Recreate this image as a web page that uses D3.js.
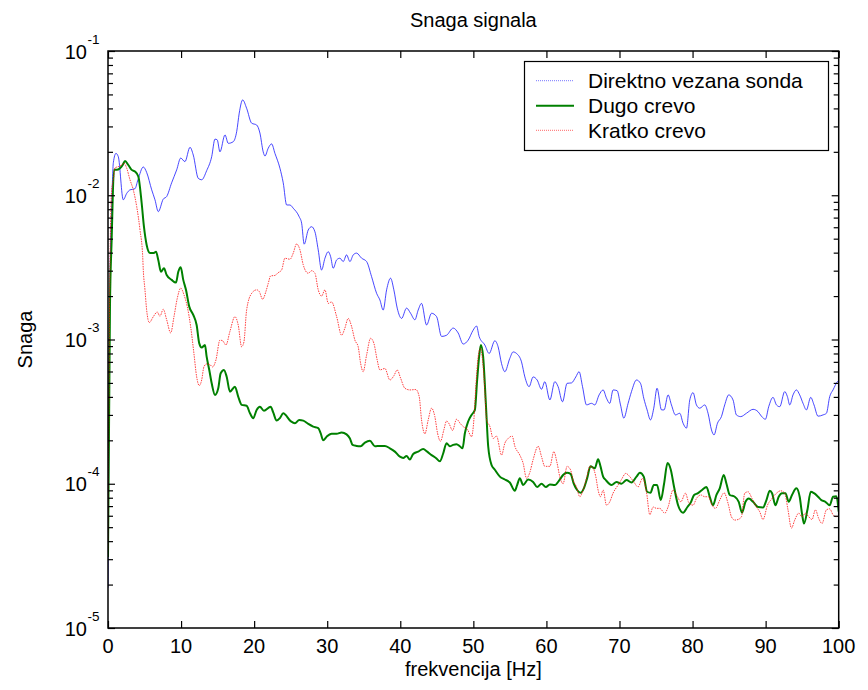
<!DOCTYPE html>
<html>
<head>
<meta charset="utf-8">
<script src="https://cdn.jsdelivr.net/npm/d3@7"></script>
<style>
  html, body { margin: 0; padding: 0; background: #fff; }
  svg { display: block; font-family: "Liberation Sans", Arial, sans-serif; }
</style>
</head>
<body>
<svg id="chart" width="868" height="690"></svg>
<script>
// ---------- DATA ----------
const seriesNames = ["Direktno vezana sonda", "Dugo crevo", "Kratko crevo"];
const xTicks = [0, 10, 20, 30, 40, 50, 60, 70, 80, 90, 100];
const yTicks = [1e-5, 1e-4, 1e-3, 1e-2, 1e-1];
const yTickExp = ["-5", "-4", "-3", "-2", "-1"];

// [frequency Hz, power]
const direktno = [[0,1.9e-5],[0.25,2e-3],[0.5,8e-3],[0.73,1.68e-2],[1.09,1.95e-2],[1.41,1.85e-2],[2.09,9.3e-3],[2.56,1.03e-2],[3.01,1.09e-2],[3.69,1.11e-2],[4.10,1.28e-2],[4.83,1.57e-2],[5.29,1.44e-2],[5.98,1.09e-2],[6.43,9.3e-3],[6.88,7.7e-3],[7.56,9.4e-3],[8.03,9.8e-3],[8.71,1.22e-2],[9.40,1.5e-2],[9.95,1.81e-2],[10.53,1.71e-2],[11.22,2.15e-2],[11.67,1.9e-2],[12.35,1.31e-2],[12.82,1.28e-2],[13.50,1.48e-2],[14.19,1.85e-2],[14.64,2.45e-2],[14.95,2.42e-2],[15.32,2.0e-2],[16.01,2.62e-2],[16.46,2.29e-2],[17.14,2.35e-2],[17.61,2.76e-2],[17.96,3.71e-2],[18.43,4.58e-2],[18.97,4.01e-2],[19.66,3.16e-2],[20.34,3.07e-2],[20.79,2.7e-2],[21.24,2.0e-2],[21.48,1.87e-2],[21.93,2.12e-2],[22.39,2.27e-2],[22.85,1.95e-2],[23.53,1.54e-2],[23.98,1.22e-2],[24.45,8.56e-3],[24.90,8.56e-3],[25.35,8.13e-3],[26.17,7.09e-3],[26.50,6.4e-3],[26.85,4.58e-3],[27.40,5.74e-3],[27.87,6.05e-3],[28.32,5.58e-3],[28.77,4.18e-3],[29.23,3.03e-3],[29.69,3.66e-3],[30.14,4.06e-3],[30.47,3.75e-3],[30.82,3.12e-3],[31.29,3.56e-3],[31.74,3.66e-3],[32.19,3.47e-3],[32.65,3.86e-3],[33.11,3.47e-3],[33.56,3.86e-3],[34.02,3.97e-3],[34.71,3.66e-3],[35.39,3.47e-3],[36.07,2.73e-3],[36.76,2.09e-3],[37.21,1.88e-3],[37.66,1.6e-3],[38.13,2.21e-3],[38.67,2.66e-3],[39.12,2.21e-3],[39.58,1.65e-3],[40.18,1.4e-3],[40.86,1.65e-3],[41.41,1.52e-3],[42.00,1.37e-3],[42.45,1.6e-3],[42.91,1.78e-3],[43.60,1.26e-3],[44.28,1.52e-3],[44.97,1.44e-3],[45.65,1.05e-3],[46.33,1.07e-3],[47.24,1.2e-3],[47.92,1.11e-3],[48.61,9.3e-4],[49.29,9.9e-4],[49.97,1.16e-3],[50.44,1.24e-3],[50.79,1.05e-3],[51.57,9.16e-4],[52.16,8.0e-4],[52.94,9.8e-4],[53.39,8.9e-4],[53.86,6.8e-4],[54.31,5.98e-4],[54.99,7.4e-4],[55.44,8.2e-4],[55.91,8.0e-4],[56.59,7.0e-4],[57.05,5.5e-4],[57.63,4.71e-4],[58.18,5.5e-4],[58.73,5.24e-4],[59.33,4.52e-4],[59.78,5.1e-4],[60.47,3.81e-4],[61.15,5.1e-4],[61.60,4.71e-4],[62.20,3.7e-4],[62.83,4.97e-4],[63.43,5.0e-4],[64.02,5.5e-4],[64.47,5.98e-4],[64.94,4.71e-4],[65.49,3.52e-4],[66.17,3.61e-4],[66.62,3.52e-4],[67.21,4.13e-4],[67.76,4.47e-4],[68.22,3.92e-4],[68.67,3.61e-4],[69.12,4.47e-4],[69.67,4.42e-4],[70.14,3.52e-4],[70.59,2.85e-4],[71.18,3.61e-4],[71.64,4.35e-4],[72.33,5.24e-4],[72.87,4.97e-4],[73.32,3.92e-4],[73.78,3.25e-4],[74.24,2.77e-4],[74.69,3.34e-4],[75.14,4.59e-4],[75.75,3.25e-4],[76.10,3.25e-4],[76.65,4.13e-4],[77.11,3.52e-4],[77.66,3.0e-4],[78.25,3.08e-4],[78.70,2.63e-4],[79.17,2.43e-4],[79.62,3.81e-4],[80.07,4.28e-4],[80.53,3.52e-4],[80.98,3.34e-4],[81.67,3.52e-4],[82.12,3.08e-4],[82.59,2.36e-4],[82.94,2.18e-4],[83.41,2.63e-4],[83.95,2.92e-4],[84.40,3.52e-4],[84.95,4.13e-4],[85.54,3.81e-4],[86.00,3.0e-4],[86.59,2.92e-4],[87.37,3.08e-4],[88.28,3.28e-4],[88.96,3.16e-4],[89.42,2.94e-4],[89.97,2.8e-4],[90.42,3.42e-4],[91.01,3.97e-4],[91.48,3.52e-4],[91.93,3.42e-4],[92.61,4.35e-4],[92.98,4.02e-4],[93.30,3.52e-4],[93.75,4.13e-4],[94.21,4.47e-4],[94.66,4.13e-4],[95.12,3.61e-4],[95.58,3.25e-4],[96.17,3.97e-4],[96.62,3.52e-4],[97.17,2.94e-4],[97.85,3.0e-4],[98.32,3.08e-4],[98.77,4.02e-4],[99.22,4.47e-4],[99.82,5.1e-4],[100,5.2e-4]];

const dugo = [[0,3.1e-5],[0.27,1.7e-3],[0.5,4.9e-3],[0.82,1.5e-2],[1.19,1.5e-2],[1.64,1.54e-2],[2.01,1.62e-2],[2.33,1.73e-2],[2.78,1.62e-2],[3.24,1.5e-2],[3.69,1.46e-2],[4.15,1.35e-2],[4.61,8.8e-3],[4.92,6.05e-3],[5.29,4.52e-3],[5.75,3.97e-3],[6.20,3.97e-3],[6.57,4.06e-3],[6.88,3.56e-3],[7.25,2.95e-3],[7.66,3.12e-3],[8.03,2.8e-3],[8.71,2.59e-3],[9.30,2.48e-3],[9.62,2.95e-3],[9.95,3.17e-3],[10.30,2.59e-3],[10.67,2.21e-3],[11.12,1.69e-3],[11.67,1.48e-3],[12.13,1.26e-3],[12.49,9.4e-4],[12.82,8.8e-4],[13.27,9.16e-4],[13.50,7.6e-4],[13.86,6.15e-4],[14.19,4.97e-4],[14.64,4.13e-4],[15.09,4.59e-4],[15.42,5.83e-4],[15.87,6.15e-4],[16.24,5.52e-4],[16.69,4.35e-4],[17.37,4.71e-4],[17.82,4.02e-4],[18.29,3.52e-4],[18.97,3.47e-4],[19.43,3.08e-4],[19.88,2.85e-4],[20.34,3.25e-4],[20.79,3.42e-4],[21.34,3.21e-4],[22.26,3.42e-4],[22.61,3.12e-4],[23.08,2.74e-4],[23.53,2.85e-4],[23.98,3.08e-4],[24.99,2.72e-4],[25.58,2.63e-4],[26.17,2.77e-4],[26.72,2.74e-4],[27.40,2.6e-4],[28.08,2.49e-4],[28.77,2.43e-4],[29.10,2.24e-4],[29.45,2.0e-4],[29.92,2.12e-4],[30.60,2.22e-4],[31.29,2.22e-4],[31.97,2.27e-4],[32.65,2.2e-4],[33.11,2.06e-4],[33.47,1.86e-4],[34.02,1.83e-4],[34.57,1.82e-4],[35.16,1.93e-4],[35.84,1.99e-4],[36.53,1.82e-4],[37.21,1.83e-4],[37.89,1.83e-4],[38.58,1.76e-4],[39.26,1.67e-4],[39.95,1.54e-4],[40.40,1.51e-4],[40.86,1.56e-4],[41.31,1.47e-4],[41.77,1.61e-4],[42.45,1.67e-4],[43.13,1.74e-4],[43.68,1.67e-4],[44.28,1.58e-4],[44.87,1.51e-4],[45.42,1.43e-4],[45.87,1.62e-4],[46.33,1.91e-4],[46.79,1.82e-4],[47.24,1.86e-4],[47.70,1.88e-4],[48.15,1.82e-4],[48.52,1.76e-4],[48.84,2.24e-4],[49.29,2.7e-4],[49.75,3.0e-4],[50.21,3.25e-4],[50.52,5.24e-4],[50.79,7.6e-4],[51.03,9.16e-4],[51.34,7.6e-4],[51.71,3.61e-4],[52.03,1.82e-4],[52.49,1.35e-4],[52.94,1.25e-4],[53.63,1.12e-4],[54.31,1.07e-4],[54.99,1.02e-4],[55.68,8.94e-5],[55.99,9.8e-5],[56.36,1.09e-4],[56.81,9.8e-5],[57.50,1.07e-4],[58.18,1.03e-4],[58.73,9.5e-5],[59.33,1.0e-4],[59.92,9.5e-5],[60.47,9.9e-5],[61.15,9.8e-5],[61.83,1.07e-4],[62.28,1.15e-4],[62.83,1.19e-4],[63.30,1.17e-4],[63.75,1.0e-4],[64.20,9.05e-5],[64.67,8.66e-5],[65.12,9.3e-5],[65.57,1.09e-4],[66.03,1.32e-4],[66.62,1.28e-4],[67.07,1.48e-4],[67.40,1.32e-4],[67.76,1.12e-4],[68.13,1.06e-4],[68.91,9.8e-5],[69.59,1.03e-4],[70.27,1.0e-4],[70.96,1.06e-4],[71.64,1.02e-4],[72.33,1.12e-4],[72.78,1.19e-4],[73.32,1.12e-4],[73.78,8.8e-5],[74.24,8.66e-5],[74.69,9.8e-5],[75.14,9.8e-5],[75.65,7.7e-5],[76.10,1.0e-4],[76.57,1.39e-4],[77.02,1.25e-4],[77.47,9.5e-5],[78.02,7.1e-5],[78.70,6.3e-5],[79.30,6.9e-5],[79.75,7.4e-5],[80.21,8.36e-5],[80.75,8.6e-5],[81.30,9.05e-5],[81.90,9.5e-5],[82.35,8.13e-5],[82.80,7.1e-5],[83.27,8.36e-5],[83.72,9.3e-5],[84.27,1.15e-4],[84.64,1.0e-4],[85.09,8.36e-5],[85.77,8.13e-5],[86.32,7.5e-5],[86.77,6.3e-5],[87.24,7.5e-5],[87.69,7.9e-5],[88.28,7.5e-5],[88.96,6.9e-5],[89.64,6.85e-5],[90.11,7.7e-5],[90.56,8.94e-5],[90.88,8.6e-5],[91.34,7.1e-5],[91.79,8.13e-5],[92.24,8.6e-5],[92.71,8.6e-5],[93.16,7.5e-5],[93.61,8.36e-5],[94.21,9.3e-5],[94.66,8.13e-5],[94.97,6.25e-5],[95.25,5.3e-5],[95.72,6.6e-5],[96.17,8.8e-5],[96.62,8.6e-5],[97.17,8.13e-5],[97.63,7.7e-5],[98.18,7.5e-5],[98.77,7.1e-5],[99.22,8.13e-5],[99.69,8.2e-5],[100,6.4e-5]];

const kratko = [[0,3.5e-5],[0.2,1.5e-3],[0.5,1.09e-2],[0.73,1.28e-2],[0.96,1.55e-2],[1.41,1.58e-2],[1.87,1.62e-2],[2.19,1.67e-2],[2.56,1.54e-2],[3.01,1.28e-2],[3.46,1.09e-2],[3.93,8.33e-3],[4.38,5.74e-3],[4.75,3.75e-3],[4.83,3.03e-3],[5.06,2.21e-3],[5.29,1.6e-3],[5.65,1.31e-3],[6.20,1.44e-3],[6.74,1.55e-3],[7.11,1.45e-3],[7.56,1.62e-3],[8.03,1.37e-3],[8.58,1.11e-3],[9.03,1.44e-3],[9.48,1.93e-3],[9.95,2.27e-3],[10.40,2.04e-3],[10.85,1.69e-3],[11.31,1.23e-3],[11.76,8.0e-4],[12.13,5.52e-4],[12.49,4.79e-4],[12.82,5.24e-4],[13.13,6.48e-4],[13.50,6.77e-4],[13.95,6.7e-4],[14.32,6.45e-4],[14.77,7.21e-4],[15.32,9.9e-4],[15.69,9.8e-4],[16.14,9.16e-4],[16.69,1.14e-3],[17.37,1.44e-3],[17.82,1.26e-3],[18.29,8.9e-4],[18.60,9.6e-4],[18.97,1.6e-3],[19.66,2.09e-3],[20.34,2.21e-3],[20.70,2.15e-3],[21.16,1.9e-3],[21.61,2.15e-3],[21.93,2.45e-3],[22.26,2.76e-3],[22.85,2.78e-3],[23.26,2.9e-3],[23.76,3.03e-3],[24.21,3.66e-3],[24.90,3.6e-3],[25.35,3.97e-3],[25.81,4.6e-3],[26.27,4.18e-3],[26.72,3.29e-3],[27.40,2.88e-3],[27.87,3.0e-3],[28.32,2.88e-3],[28.77,2.21e-3],[29.23,2.0e-3],[29.69,2.21e-3],[30.14,1.78e-3],[30.60,1.82e-3],[31.29,1.44e-3],[31.97,1.07e-3],[32.42,1.2e-3],[32.87,1.4e-3],[33.34,1.23e-3],[33.79,9.9e-4],[34.24,8.9e-4],[34.57,6.84e-4],[34.92,5.98e-4],[35.39,7.8e-4],[35.94,1.02e-3],[36.39,9.4e-4],[36.84,7.2e-4],[37.21,6.15e-4],[37.89,6.3e-4],[38.58,5.24e-4],[39.12,5.6e-4],[39.58,6.15e-4],[40.04,5.4e-4],[40.63,4.59e-4],[41.31,4.47e-4],[42.13,4.5e-4],[42.59,4.02e-4],[42.91,2.77e-4],[43.37,2.22e-4],[43.82,2.77e-4],[44.28,3.34e-4],[44.73,2.92e-4],[45.10,2.24e-4],[45.51,1.97e-4],[45.96,2.36e-4],[46.33,2.72e-4],[46.69,2.6e-4],[47.15,2.34e-4],[47.70,2.8e-4],[48.25,2.6e-4],[48.70,2.47e-4],[49.15,2.4e-4],[49.75,2.12e-4],[50.07,2.77e-4],[50.34,4.71e-4],[50.66,7.6e-4],[50.98,8.7e-4],[51.26,7.2e-4],[51.57,4.47e-4],[51.81,2.77e-4],[52.26,2.5e-4],[52.71,2.06e-4],[53.17,2.14e-4],[53.86,1.58e-4],[54.31,1.91e-4],[54.76,2.06e-4],[55.31,2.14e-4],[55.68,1.82e-4],[56.36,1.58e-4],[56.81,1.39e-4],[57.28,1.09e-4],[57.73,1.2e-4],[58.18,1.47e-4],[58.87,1.82e-4],[59.33,1.54e-4],[59.78,1.32e-4],[60.47,1.32e-4],[61.01,1.67e-4],[61.46,1.39e-4],[61.83,1.12e-4],[62.28,1.0e-4],[62.83,1.32e-4],[63.30,1.25e-4],[63.65,1.06e-4],[64.11,9.5e-5],[64.57,8.13e-5],[65.02,9.05e-5],[65.49,1.09e-4],[65.94,1.32e-4],[66.35,1.29e-4],[66.76,1.12e-4],[67.07,9.05e-5],[67.40,8.13e-5],[67.76,9.05e-5],[68.22,7.1e-5],[68.67,7.5e-5],[69.12,8.6e-5],[69.81,9.8e-5],[70.27,1.07e-4],[70.86,1.18e-4],[71.41,1.12e-4],[71.96,1.03e-4],[72.54,9.5e-5],[73.15,1.09e-4],[73.69,8.8e-5],[74.15,6.1e-5],[74.60,6.9e-5],[75.06,6.75e-5],[75.51,6.75e-5],[76.20,6.25e-5],[76.65,6.9e-5],[77.33,9.05e-5],[77.93,8.13e-5],[78.39,7.5e-5],[79.03,8.6e-5],[79.48,7.4e-5],[80.07,7.1e-5],[80.53,7.9e-5],[81.12,8.36e-5],[81.67,8.13e-5],[82.15,8.13e-5],[82.67,7.1e-5],[83.13,6.75e-5],[83.72,7.7e-5],[84.31,8.66e-5],[84.86,7.3e-5],[85.32,5.9e-5],[85.77,5.6e-5],[86.22,5.65e-5],[86.69,5.9e-5],[87.14,8.6e-5],[87.59,8.8e-5],[88.14,7.9e-5],[88.74,6.9e-5],[89.19,6.4e-5],[89.64,5.65e-5],[90.25,7.1e-5],[90.88,7.9e-5],[91.48,8.6e-5],[92.07,8.94e-5],[92.61,8.6e-5],[93.06,6.6e-5],[93.53,4.92e-5],[93.98,5.6e-5],[94.53,6.25e-5],[94.98,5.9e-5],[95.45,6.25e-5],[95.90,5.9e-5],[96.35,5.65e-5],[96.81,6.6e-5],[97.26,5.75e-5],[97.72,5.3e-5],[98.32,6.6e-5],[98.77,6.7e-5],[99.22,6.1e-5],[99.69,5.9e-5],[100,6.0e-5]];

// ---------- CHART ----------
const svg = d3.select("#chart");
const L = 108, R = 838.7, T = 51, B = 628;
const x = d3.scaleLinear().domain([0, 100]).range([L, R]);
const y = d3.scaleLog().domain([1e-5, 1e-1]).range([B, T]);

svg.append("rect").attr("width", 868).attr("height", 690).attr("fill", "#fff");

svg.append("defs").append("clipPath").attr("id", "clip")
  .append("rect").attr("x", L).attr("y", T).attr("width", R - L).attr("height", B - T);

const line = d3.line()
  .x(d => x(d[0]))
  .y(d => y(d[1]))
  .curve(d3.curveMonotoneX);

const styles = [
  { data: direktno, stroke: "#1a1aff", width: 1, dash: null, opacity: 0.8, legDash: "1,1", legOp: 0.6 },
  { data: dugo, stroke: "#008000", width: 2, dash: null, opacity: 1, legDash: null, legOp: 1 },
  { data: kratko, stroke: "#ff0000", width: 1, dash: "1.5,1", opacity: 0.75, legDash: "1,1", legOp: 0.6 }
];

const plot = svg.append("g").attr("clip-path", "url(#clip)");
styles.forEach(s => {
  plot.append("path")
    .datum(s.data)
    .attr("fill", "none")
    .attr("stroke", s.stroke)
    .attr("stroke-width", s.width)
    .attr("stroke-opacity", s.opacity)
    .attr("stroke-dasharray", s.dash)
    .attr("stroke-linejoin", "round")
    .attr("d", line);
});

// ---------- AXES (inward ticks on all four sides) ----------
const minor = [];
for (let e = -5; e <= -2; e++) {
  for (let m = 2; m <= 9; m++) minor.push(m * Math.pow(10, e));
}

const xAxisB = d3.axisBottom(x).tickValues(xTicks).tickSize(-7).tickFormat("");
const xAxisT = d3.axisTop(x).tickValues(xTicks).tickSize(-7).tickFormat("");
svg.append("g").attr("transform", `translate(0,${B})`).call(xAxisB).call(g => g.select(".domain").remove());
svg.append("g").attr("transform", `translate(0,${T})`).call(xAxisT).call(g => g.select(".domain").remove());

const yAxisL = d3.axisLeft(y).tickValues(yTicks).tickSize(-7).tickFormat("");
const yAxisR = d3.axisRight(y).tickValues(yTicks).tickSize(-7).tickFormat("");
const yAxisLm = d3.axisLeft(y).tickValues(minor).tickSize(-5).tickFormat("");
const yAxisRm = d3.axisRight(y).tickValues(minor).tickSize(-5).tickFormat("");
[[yAxisL, L], [yAxisLm, L], [yAxisR, R], [yAxisRm, R]].forEach(([ax, pos]) => {
  svg.append("g").attr("transform", `translate(${pos},0)`).call(ax).call(g => g.select(".domain").remove());
});
svg.selectAll(".tick line").attr("stroke", "#000").attr("stroke-width", 1.2);

// frame
svg.append("rect")
  .attr("x", L).attr("y", T).attr("width", R - L).attr("height", B - T)
  .attr("fill", "none").attr("stroke", "#000").attr("stroke-width", 1.5);

// x tick labels
svg.append("g").selectAll("text").data(xTicks).join("text")
  .attr("x", d => x(d)).attr("y", B + 25)
  .attr("text-anchor", "middle")
  .attr("font-size", 20)
  .attr("fill", "#000")
  .text(d => d);

// y tick labels 10^k
const yl = svg.append("g").selectAll("g").data(yTicks).join("g");
yl.append("text")
  .attr("x", 87).attr("y", d => y(d) + 7.5)
  .attr("text-anchor", "end")
  .attr("font-size", 20)
  .attr("fill", "#000")
  .text("10");
yl.append("text")
  .attr("x", 87.5).attr("y", d => y(d) - 7.5)
  .attr("text-anchor", "start")
  .attr("font-size", 13.5)
  .attr("fill", "#000")
  .text((d, i) => yTickExp[i]);

// title & axis labels
svg.append("text").attr("x", (L + R) / 2).attr("y", 27)
  .attr("text-anchor", "middle").attr("font-size", 20).attr("fill", "#000")
  .text("Snaga signala");
svg.append("text").attr("x", (L + R) / 2).attr("y", 676)
  .attr("text-anchor", "middle").attr("font-size", 20).attr("fill", "#000")
  .text("frekvencija [Hz]");
svg.append("text")
  .attr("transform", `translate(32,${(T + B) / 2}) rotate(-90)`)
  .attr("text-anchor", "middle").attr("font-size", 20).attr("fill", "#000")
  .text("Snaga");

// ---------- LEGEND ----------
const lg = svg.append("g");
lg.append("rect").attr("x", 524.5).attr("y", 61.5).attr("width", 304).attr("height", 89)
  .attr("fill", "#fff").attr("stroke", "#000").attr("stroke-width", 1.2);
const rowY = [80.7, 105.7, 130.3];
seriesNames.forEach((name, i) => {
  const s = styles[i];
  lg.append("line")
    .attr("x1", 536).attr("x2", 574).attr("y1", rowY[i]).attr("y2", rowY[i])
    .attr("stroke", s.stroke).attr("stroke-width", s.width)
    .attr("stroke-opacity", s.legOp)
    .attr("stroke-dasharray", s.legDash);
  lg.append("text")
    .attr("x", 588).attr("y", rowY[i] + 7.5)
    .attr("font-size", 21).attr("fill", "#000")
    .text(name);
});
</script>
</body>
</html>
